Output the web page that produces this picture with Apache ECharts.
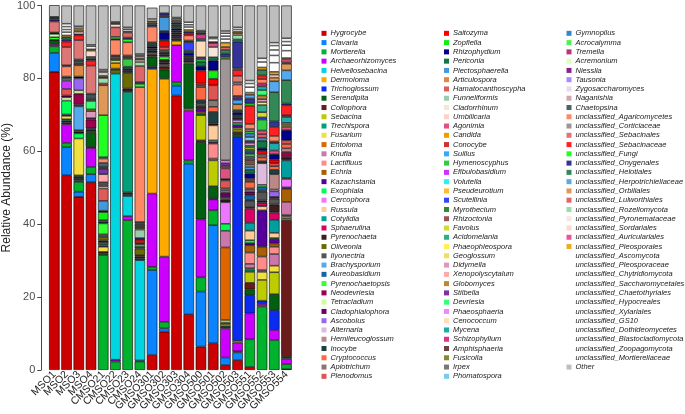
<!DOCTYPE html>
<html><head><meta charset="utf-8">
<script src="https://cdn.jsdelivr.net/npm/echarts@6/dist/echarts.min.js"></script>
<style>html,body{margin:0;padding:0;background:#fff}#c{width:685px;height:414px}</style>
</head><body><div id="c"></div>
<script>
const samples = ['MSO1','MSO2','MSO3','MSO4','CMSO21','CMSO22','CMSO23','CMSO24','GMSO301','GMSO302','GMSO303','GMSO304','GMSO500','GMSO501','GMSO502','GMSO503','GMSO551','GMSO552','GMSO553','GMSO554'];
const yTicks = [0,20,40,60,80,100];

const taxaCol1 = ['Hygrocybe','Clavaria','Mortierella','Archaeorhizomyces','Helvellosebacina','Dermoloma','Trichoglossum','Serendipita','Collophora','Sebacina','Trechispora','Fusarium','Entoloma','Knufia','Lactifluus','Echria','Kazachstania','Exophiala','Cercophora','Russula','Cotylidia','Sphaerulina','Pyrenochaeta','Oliveonia','Ilyonectria','Brachysporium','Aureobasidium','Pyrenochaetopsis','Neodevriesia','Tetracladium','Cladophialophora','Ascobolus','Alternaria','Hemileucoglossum','Inocybe','Cryptococcus','Apiotrichum','Plenodomus'];
const taxaCol2 = ['Saitozyma','Zopfiella','Rhizophydium','Periconia','Plectosphaerella','Articulospora','Hamatocanthoscypha','Funneliformis','Cladorrhinum','Umbilicaria','Agonimia','Candida','Conocybe','Suillus','Hymenoscyphus','Efibulobasidium','Volutella','Pseudeurotium','Scutellinia','Myrothecium','Rhizoctonia','Favolus','Acidomelania','Phaeophleospora','Geoglossum','Didymella','Xenopolyscytalum','Globomyces','Stilbella','Devriesia','Phaeosphaeria','Cenococcum','Mycena','Schizophyllum','Amphisphaeria','Fusicolla','Irpex','Phomatospora'];
const taxaCol3 = ['Gymnopilus','Acrocalymma','Tremella','Acremonium','Niesslia','Tausonia','Zygosaccharomyces','Naganishia','Chaetopsina','unclassified_Agaricomycetes','unclassified_Corticiaceae','unclassified_Sebacinales','unclassified_Sebacinaceae','unclassified_Fungi','unclassified_Onygenales','unclassified_Helotiales','unclassified_Herpotrichiellaceae','unclassified_Orbiliales','unclassified_Lulworthiales','unclassified_Rozellomycota','unclassified_Pyronemataceae','unclassified_Sordariales','unclassified_Auriculariales','unclassified_Pleosporales','unclassified_Ascomycota','unclassified_Pleosporaceae','unclassified_Chytridiomycota','unclassified_Saccharomycetales','unclassified_Chaetothyriales','unclassified_Hypocreales','unclassified_Xylariales','unclassified_GS10','unclassified_Dothideomycetes','unclassified_Blastocladiomycota','unclassified_Zoopagomycota','unclassified_Mortierellaceae','Other'];

const colorsCol1 = ['#cc0000','#0a84ff','#00b22c','#cc00ff','#00d5e0','#ffaa00','#0a2bf0','#00600f','#6b1b1b','#bdcc00','#00a07a','#f0e040','#dd6600','#cc77aa','#ff8c8c','#a86000','#55009a','#00ff55','#ee77ff','#ffcc99','#009e9e','#d90066','#3c1e1e','#6b6b00','#555555','#55aaee','#1066aa','#33ff33','#99004d','#ccff99','#660066','#9966ee','#ddbbdd','#bb8888','#1f4040','#ff6644','#887777','#dd5555'];
const colorsCol2 = ['#ff0000','#11ee11','#000088','#117744','#4499dd','#dd8844','#e05a5a','#99ccaa','#f5e6dc','#ffd0c4','#e05080','#e8a000','#cc3333','#33aaff','#33cc44','#cc33ff','#33eeee','#ffbb33','#3344ff','#338833','#995555','#ccdd33','#33aa88','#ffee55','#eedd66','#dd99bb','#ffaaaa','#bb8833','#7733aa','#33ff77','#ee88ff','#ffddbb','#22aaaa','#dd3388','#664444','#888833','#777777','#77ccee'];
const colorsCol3 = ['#3388cc','#55ee55','#bb3377','#ddffbb','#882288','#aa88ff','#eed8ee','#ccaaaa','#446666','#ff8866','#9e9696','#dd7777','#ff2222','#22ff22','#333399','#338855','#55aaee','#dd9955','#dd6666','#99ddaa','#f5e8e0','#ffd8cc','#ee5599','#eeaa22','#ffffff','#ffffff','#ffffff','#ffffff','#ffffff','#ffffff','#ffffff','#ffffff','#ffffff','#ffffff','#ffffff','#ffffff','#bebebe'];

// Relative abundance (%) per sample
const MSO1 = {Hygrocybe:81.8,Clavaria:5.2,Mortierella:1.8,Archaeorhizomyces:0.6,Serendipita:0.9,Pyrenochaeta:0.3,Pyrenochaetopsis:0.7,Tetracladium:0.9,Rhizophydium:0.2,Periconia:0.2,unclassified_Sebacinales:3.0,unclassified_Onygenales:0.5,unclassified_Helotiales:0.4,unclassified_Ascomycota:0.2,unclassified_Pleosporaceae:0.2,Other:3.3};
const MSO2 = {Hygrocybe:53.4,Clavaria:7.7,Mortierella:1.2,Archaeorhizomyces:5.1,Serendipita:0.5,Collophora:0.5,Trechispora:0.4,Fusarium:0.9,Kazachstania:0.4,Exophiala:3.8,Tetracladium:0.9,Cladophialophora:0.5,Plenodomus:1.8,Efibulobasidium:2.3,Mycena:0.6,Amphisphaeria:0.5,unclassified_Agaricomycetes:2.8,unclassified_Corticiaceae:0.3,unclassified_Sebacinales:5.0,unclassified_Sebacinaceae:1.5,unclassified_Onygenales:0.6,unclassified_Helotiales:0.6,unclassified_Pleosporales:0.5,unclassified_Ascomycota:0.9,unclassified_Pleosporaceae:0.7,unclassified_Chytridiomycota:0.8,unclassified_Saccharomycetales:0.8,Other:5.0};
const MSO3 = {Hygrocybe:47.5,Clavaria:1.4,Mortierella:2.7,Archaeorhizomyces:0.4,Serendipita:0.6,Collophora:0.4,Trechispora:0.4,Fusarium:10.1,Exophiala:1.4,Pyrenochaeta:0.5,Ilyonectria:0.4,Brachysporium:6.5,Aureobasidium:0.5,Neodevriesia:3.0,Tetracladium:0.9,Ascobolus:3.3,Rhizophydium:0.5,Articulospora:3.1,Amphisphaeria:0.6,Irpex:0.5,Chaetopsina:0.5,unclassified_Sebacinales:5.3,unclassified_Sebacinaceae:1.3,unclassified_Onygenales:0.3,unclassified_Sordariales:0.7,unclassified_Pleosporales:0.5,unclassified_Ascomycota:0.5,unclassified_Pleosporaceae:0.5,Other:5.7};
const MSO4 = {Hygrocybe:51.5,Clavaria:2.2,Mortierella:2.0,Archaeorhizomyces:5.2,Trichoglossum:0.3,Serendipita:4.0,Cotylidia:0.4,Pyrenochaeta:0.3,Aureobasidium:0.4,Neodevriesia:2.4,Cladophialophora:0.4,Didymella:1.9,Globomyces:0.5,Devriesia:2.3,Amphisphaeria:0.6,Irpex:0.5,Phomatospora:0.4,Chaetopsina:0.5,unclassified_Sebacinales:7.7,unclassified_Sebacinaceae:1.4,unclassified_Onygenales:0.5,unclassified_Helotiales:0.5,unclassified_Sordariales:1.7,unclassified_Pleosporales:0.4,unclassified_Ascomycota:0.8,unclassified_Pleosporaceae:0.4,Other:10.8};
const CMSO21 = {Mortierella:31.5,Serendipita:0.5,Collophora:0.4,Fusarium:1.4,Kazachstania:0.3,Exophiala:0.4,Cercophora:0.4,Pyrenochaeta:0.6,Oliveonia:1.0,Ilyonectria:0.7,Pyrenochaetopsis:3.0,Inocybe:0.5,Apiotrichum:0.4,Zopfiella:2.2,Rhizophydium:0.4,Plectosphaerella:2.7,Hamatocanthoscypha:3.4,Umbilicaria:0.6,Agonimia:0.5,Rhizoctonia:0.6,Xenopolyscytalum:2.2,Stilbella:1.5,Niesslia:0.4,Chaetopsina:1.2,unclassified_Agaricomycetes:1.2,unclassified_Corticiaceae:0.4,unclassified_Fungi:11.5,unclassified_Orbiliales:8.2,unclassified_Lulworthiales:0.5,unclassified_Rozellomycota:1.5,unclassified_Auriculariales:0.3,unclassified_Pleosporales:0.4,unclassified_Ascomycota:0.8,unclassified_Pleosporaceae:0.4,unclassified_Chytridiomycota:0.4,Other:17.6};
const CMSO22 = {Mortierella:2.3,Archaeorhizomyces:0.5,Helvellosebacina:78.5,Oliveonia:1.0,Ilyonectria:0.4,Candida:1.5,Favolus:0.8,Amphisphaeria:0.6,Irpex:0.5,Chaetopsina:0.2,unclassified_Agaricomycetes:4.3,unclassified_Corticiaceae:0.2,unclassified_Fungi:0.6,unclassified_Lulworthiales:2.6,unclassified_Sordariales:0.9,unclassified_Pleosporales:0.3,unclassified_Ascomycota:0.3,Other:4.5};
const CMSO23 = {Mortierella:41.1,Archaeorhizomyces:1.1,Helvellosebacina:5.5,Serendipita:0.5,Collophora:0.5,Trechispora:27.6,Pyrenochaeta:0.9,Oliveonia:4.3,Inocybe:0.6,Rhizophydium:0.5,Periconia:0.6,Hymenoscyphus:2.2,Amphisphaeria:0.5,Irpex:0.4,unclassified_Agaricomycetes:3.6,unclassified_Fungi:0.9,unclassified_Onygenales:0.4,unclassified_Lulworthiales:1.4,unclassified_Pleosporales:0.3,unclassified_Ascomycota:0.6,unclassified_Pleosporaceae:0.5,Other:6.0};
const CMSO24 = {Mortierella:2.3,Archaeorhizomyces:0.3,Helvellosebacina:27.5,Serendipita:0.5,Collophora:0.5,Pyrenochaeta:0.4,Oliveonia:1.8,Ilyonectria:0.5,Pyrenochaetopsis:0.6,Inocybe:0.4,Saitozyma:0.9,Rhizophydium:0.5,Funneliformis:2.3,Pseudeurotium:0.4,Amphisphaeria:0.5,Irpex:0.4,Fusicolla:0.4,Chaetopsina:0.4,unclassified_Agaricomycetes:37.0,unclassified_Fungi:0.9,unclassified_Onygenales:0.5,unclassified_Lulworthiales:4.4,unclassified_Rozellomycota:1.1,unclassified_Sordariales:0.6,unclassified_Pleosporales:0.4,unclassified_Ascomycota:0.5,unclassified_Pleosporaceae:0.3,unclassified_Chytridiomycota:0.4,Other:13.3};
const GMSO301 = {Hygrocybe:4.1,Clavaria:23.3,Mortierella:0.9,Archaeorhizomyces:20.1,Dermoloma:34.2,Trichoglossum:0.6,Serendipita:2.8,Collophora:0.6,Fusarium:0.4,Pyrenochaeta:0.6,Inocybe:0.6,Rhizophydium:0.6,Periconia:0.6,Amphisphaeria:0.5,unclassified_Agaricomycetes:4.3,unclassified_Onygenales:0.6,unclassified_Helotiales:0.5,unclassified_Pleosporales:0.4,unclassified_Ascomycota:0.6,Other:3.1};
const GMSO302 = {Hygrocybe:10.5,Clavaria:0.9,Mortierella:1.8,Archaeorhizomyces:17.9,Dermoloma:48.8,Serendipita:2.5,Collophora:0.8,Echria:0.6,Kazachstania:0.5,Pyrenochaeta:0.8,Pyrenochaetopsis:0.9,Cladophialophora:0.6,Inocybe:0.6,Apiotrichum:0.5,Plenodomus:0.9,Saitozyma:1.8,Zopfiella:0.2,Rhizophydium:2.1,Periconia:0.3,Plectosphaerella:3.8,Amphisphaeria:0.5,unclassified_Onygenales:0.6,Other:2.1};
const GMSO303 = {Hygrocybe:75.3,Clavaria:2.7,Mortierella:1.0,Archaeorhizomyces:10.1,Dermoloma:1.2,Serendipita:0.6,Collophora:0.5,Kazachstania:0.6,Pyrenochaeta:0.6,Inocybe:0.5,Rhizophydium:0.6,Periconia:0.6,Amphisphaeria:0.5,unclassified_Onygenales:0.5,unclassified_Helotiales:0.6,unclassified_Pleosporales:0.5,unclassified_Ascomycota:0.3,Other:3.3};
const GMSO304 = {Hygrocybe:15.3,Clavaria:41.3,Mortierella:0.9,Archaeorhizomyces:13.7,Dermoloma:0.5,Serendipita:12.3,Fusarium:0.4,Kazachstania:0.6,Pyrenochaeta:0.6,Inocybe:0.6,Rhizophydium:0.8,Periconia:0.6,Scutellinia:2.3,Amphisphaeria:0.5,unclassified_Agaricomycetes:1.4,unclassified_Sebacinaceae:0.5,unclassified_Onygenales:0.5,unclassified_Pleosporales:0.5,unclassified_Ascomycota:0.8,unclassified_Pleosporaceae:0.6,unclassified_Chytridiomycota:0.7,Other:4.6};
const GMSO500 = {Hygrocybe:6.4,Clavaria:15.1,Mortierella:3.9,Archaeorhizomyces:15.9,Serendipita:21.2,Collophora:0.5,Sebacina:6.9,Trechispora:0.4,Entoloma:0.5,Kazachstania:0.8,Pyrenochaeta:0.8,Ilyonectria:0.8,Inocybe:0.8,Cryptococcus:3.6,Apiotrichum:0.5,Plenodomus:0.5,Saitozyma:3.6,Rhizophydium:1.2,Periconia:1.2,Hymenoscyphus:0.7,Stilbella:0.5,Cenococcum:4.5,Mycena:0.5,Schizophyllum:1.3,Amphisphaeria:0.5,Irpex:0.5,Other:6.9};
const GMSO501 = {Hygrocybe:7.3,Clavaria:32.4,Mortierella:4.1,Archaeorhizomyces:3.0,Trichoglossum:0.2,Serendipita:3.4,Sebacina:7.1,Knufia:0.5,Lactifluus:4.1,Kazachstania:0.4,Exophiala:0.5,Russula:4.1,Pyrenochaeta:0.5,Inocybe:3.2,Cryptococcus:1.4,Apiotrichum:1.8,Plenodomus:4.1,Saitozyma:1.8,Zopfiella:2.3,Rhizophydium:2.7,Periconia:0.9,Cladorrhinum:2.8,Agonimia:1.1,Amphisphaeria:0.3,unclassified_Ascomycota:0.9,unclassified_Pleosporaceae:0.4,Other:8.7};
const GMSO502 = {Hygrocybe:1.3,Clavaria:2.1,Archaeorhizomyces:8.0,Serendipita:0.6,Sebacina:0.6,Trechispora:0.4,Fusarium:0.7,Entoloma:19.9,Knufia:4.6,Exophiala:1.9,Cercophora:5.9,Pyrenochaeta:0.7,Ilyonectria:0.7,Cladophialophora:1.2,Hemileucoglossum:0.6,Apiotrichum:0.6,Plenodomus:2.2,Rhizophydium:0.4,Agonimia:2.9,Rhizoctonia:0.7,Stilbella:0.7,Phaeosphaeria:0.8,unclassified_Corticiaceae:27.9,unclassified_Fungi:0.5,unclassified_Onygenales:0.9,unclassified_Helotiales:1.0,unclassified_Lulworthiales:0.8,unclassified_Pleosporales:1.2,unclassified_Ascomycota:1.0,unclassified_Pleosporaceae:0.8,unclassified_Chytridiomycota:0.8,unclassified_Saccharomycetales:0.6,Other:7.0};
const GMSO503 = {Hygrocybe:2.7,Clavaria:2.1,Mortierella:0.3,Archaeorhizomyces:2.4,Dermoloma:0.5,Trichoglossum:55.9,Serendipita:0.8,Collophora:0.6,Sebacina:0.6,Fusarium:0.5,Kazachstania:0.8,Exophiala:0.6,Cercophora:0.8,Pyrenochaeta:0.6,Inocybe:0.7,Rhizophydium:0.8,Periconia:0.6,Articulospora:1.6,Suillus:1.2,Stilbella:0.6,Amphisphaeria:0.5,unclassified_Agaricomycetes:3.1,unclassified_Corticiaceae:0.6,unclassified_Sebacinales:1.8,unclassified_Sebacinaceae:1.6,unclassified_Fungi:0.4,unclassified_Onygenales:7.4,unclassified_Helotiales:0.6,unclassified_Rozellomycota:1.2,unclassified_Sordariales:0.5,unclassified_Pleosporales:0.4,unclassified_Ascomycota:0.6,unclassified_Pleosporaceae:0.6,Other:6.1};
const GMSO551 = {Hygrocybe:0.8,Mortierella:7.6,Archaeorhizomyces:7.1,Trichoglossum:5.0,Serendipita:1.6,Collophora:1.8,Sebacina:3.0,Trechispora:0.6,Fusarium:0.4,Knufia:1.2,Lactifluus:3.1,Echria:2.0,Kazachstania:0.6,Exophiala:0.8,Russula:2.6,Cotylidia:2.2,Sphaerulina:3.9,Pyrenochaeta:0.4,Ilyonectria:1.7,Brachysporium:0.3,Aureobasidium:1.2,Neodevriesia:0.4,Cladophialophora:0.6,Alternaria:0.5,Hemileucoglossum:0.4,Cryptococcus:1.8,Apiotrichum:0.4,Plenodomus:0.5,Rhizophydium:1.4,Periconia:1.0,Plectosphaerella:0.8,Funneliformis:0.6,Agonimia:0.6,Candida:0.5,Conocybe:0.6,Suillus:0.5,Hymenoscyphus:0.8,Scutellinia:0.5,Myrothecium:0.6,Favolus:0.6,Acidomelania:0.5,Didymella:0.8,Stilbella:0.6,Phomatospora:1.0,Gymnopilus:1.0,Acrocalymma:0.6,Naganishia:0.6,unclassified_Agaricomycetes:1.4,unclassified_Sebacinaceae:5.0,unclassified_Fungi:0.6,unclassified_Onygenales:1.4,unclassified_Herpotrichiellaceae:1.0,unclassified_Pleosporales:0.6,unclassified_Ascomycota:1.5,unclassified_Pleosporaceae:1.0,unclassified_Chytridiomycota:0.8,Other:20.6};
const GMSO552 = {Mortierella:17.4,Archaeorhizomyces:0.7,Trichoglossum:0.9,Sebacina:5.7,Fusarium:2.2,Knufia:0.5,Lactifluus:3.7,Echria:2.7,Kazachstania:10.0,Russula:1.1,Sphaerulina:1.0,Pyrenochaeta:0.6,Ilyonectria:2.4,Brachysporium:0.3,Aureobasidium:1.0,Pyrenochaetopsis:0.6,Alternaria:5.9,Inocybe:0.6,Cryptococcus:1.0,Apiotrichum:0.8,Saitozyma:1.0,Rhizophydium:0.8,Periconia:2.0,Plectosphaerella:0.8,Hamatocanthoscypha:1.0,Agonimia:1.0,Hymenoscyphus:3.0,Scutellinia:0.6,Favolus:1.4,Acidomelania:2.0,Phaeophleospora:0.8,Didymella:0.8,Globomyces:1.0,Devriesia:1.5,Mycena:1.0,Schizophyllum:0.8,unclassified_Agaricomycetes:1.2,unclassified_Sebacinaceae:1.0,unclassified_Helotiales:1.5,unclassified_Pleosporales:0.7,unclassified_Ascomycota:1.5,unclassified_Pleosporaceae:1.0,Other:14.5};
const GMSO553 = {Mortierella:8.2,Archaeorhizomyces:2.8,Trichoglossum:5.4,Serendipita:4.4,Sebacina:6.0,Fusarium:1.8,Knufia:3.2,Lactifluus:2.0,Echria:0.9,Kazachstania:1.2,Exophiala:0.3,Russula:1.4,Cotylidia:3.6,Sphaerulina:2.0,Pyrenochaeta:2.2,Ilyonectria:1.6,Cladophialophora:0.5,Ascobolus:1.5,Alternaria:0.5,Hemileucoglossum:4.2,Inocybe:1.2,Cryptococcus:1.0,Plenodomus:0.8,Saitozyma:1.0,Rhizophydium:1.5,Agonimia:1.0,Mycena:2.0,Amphisphaeria:0.5,unclassified_Agaricomycetes:1.5,unclassified_Sebacinaceae:2.5,unclassified_Onygenales:1.5,unclassified_Helotiales:8.0,unclassified_Herpotrichiellaceae:3.0,unclassified_Orbiliales:1.0,unclassified_Sordariales:0.8,unclassified_Pleosporales:0.8,unclassified_Ascomycota:2.5,unclassified_Pleosporaceae:2.0,unclassified_Chytridiomycota:1.5,unclassified_Saccharomycetales:1.2,unclassified_Chaetothyriales:0.8,Other:10.2};
const GMSO554 = {Hygrocybe:0.2,Mortierella:1.4,Archaeorhizomyces:1.5,Serendipita:0.5,Collophora:37.5,Sebacina:0.5,Fusarium:0.5,Entoloma:0.4,Knufia:3.6,Echria:3.6,Kazachstania:0.4,Cercophora:2.3,Russula:0.3,Cotylidia:4.8,Sphaerulina:0.3,Pyrenochaeta:0.6,Neodevriesia:1.4,Hemileucoglossum:1.0,Cryptococcus:1.2,Plenodomus:1.0,Rhizophydium:2.8,Agonimia:0.9,Favolus:0.5,Globomyces:0.6,Mycena:1.6,Amphisphaeria:0.5,unclassified_Sebacinaceae:2.7,unclassified_Onygenales:0.5,unclassified_Helotiales:6.4,unclassified_Herpotrichiellaceae:2.7,unclassified_Orbiliales:1.8,unclassified_Lulworthiales:0.4,unclassified_Auriculariales:0.8,unclassified_Pleosporales:0.4,unclassified_Ascomycota:2.0,unclassified_Pleosporaceae:1.5,unclassified_Chytridiomycota:1.0,unclassified_Saccharomycetales:0.9,Other:9.0};

const sampleData = [MSO1,MSO2,MSO3,MSO4,CMSO21,CMSO22,CMSO23,CMSO24,GMSO301,GMSO302,GMSO303,GMSO304,GMSO500,GMSO501,GMSO502,GMSO503,GMSO551,GMSO552,GMSO553,GMSO554];

const taxa = taxaCol1.concat(taxaCol2, taxaCol3);
const colors = colorsCol1.concat(colorsCol2, colorsCol3);
const FONT = '"Liberation Sans", Arial, Helvetica, sans-serif';

const series = taxa.map((name, i) => ({
  name: name,
  type: 'bar',
  stack: 'all',
  barCategoryGap: '14%',
  data: sampleData.map(s => (s[name] !== undefined ? s[name] : null)),
  itemStyle: { color: colors[i], borderColor: '#000', borderWidth: 0.6 },
  emphasis: { disabled: true },
  silent: true
}));

function legendCol(list, left) {
  return {
    data: list, orient: 'vertical', left: left, top: 28.7,
    itemWidth: 5, itemHeight: 5, itemGap: 0, selectedMode: false,
    icon: 'rect', padding: 0,
    itemStyle: { borderWidth: 0, borderColor: 'transparent' },
    textStyle: { fontSize: 7.5, fontStyle: 'italic', color: '#1a1a1a', fontFamily: FONT, lineHeight: 9.27, padding: [0,0,0,-1] }
  };
}

const chart = echarts.init(document.getElementById('c'), null, { renderer: 'canvas' });
chart.setOption({
  animation: false,
  backgroundColor: '#ffffff',
  grid: { left: 47.4, right: 392.4, top: 5, bottom: 44 },
  legend: [legendCol(taxaCol1, 321.5), legendCol(taxaCol2, 444), legendCol(taxaCol3, 566.5)],
  xAxis: {
    type: 'category', data: samples,
    axisLine: { show: false }, axisTick: { show: false },
    axisLabel: { rotate: 45, interval: 0, fontSize: 10.5, color: '#222', margin: 3, fontFamily: FONT }
  },
  yAxis: {
    type: 'value', min: yTicks[0], max: yTicks[yTicks.length - 1], interval: 20, offset: 7,
    name: 'Relative Abundance (%)', nameLocation: 'middle', nameGap: 26,
    nameTextStyle: { fontSize: 12, color: '#222', fontFamily: FONT },
    axisLine: { show: true, lineStyle: { color: '#444', width: 1 } },
    axisTick: { show: true, length: 4, lineStyle: { color: '#444' } },
    axisLabel: { fontSize: 11, color: '#4d4d4d', margin: 6, fontFamily: FONT },
    splitLine: { show: false }
  },
  series: series
});
</script></body></html>
